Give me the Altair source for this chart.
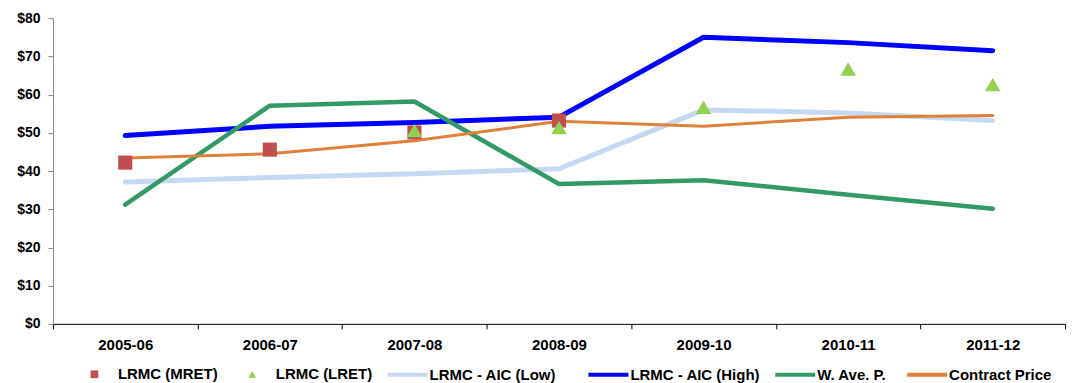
import altair as alt
import pandas as pd

years = ["2005-06", "2006-07", "2007-08", "2008-09", "2009-10", "2010-11", "2011-12"]
series_names = ["LRMC (MRET)", "LRMC (LRET)", "LRMC - AIC (Low)", "LRMC - AIC (High)", "W. Ave. P.", "Contract Price"]
colors = ["#C0504D", "#92D050", "#C6D9F1", "#0000FF", "#339966", "#E0813A"]

mret = [42.2, 45.6, 50.1, 53.2, None, None, None]
lret = [None, None, 50.6, 51.4, 56.7, 66.7, 62.6]
aic_low = [37.1, 38.3, 39.3, 40.6, 56.0, 55.2, 53.2]
aic_high = [49.3, 51.7, 52.7, 54.1, 75.0, 73.6, 71.5]
w_ave = [31.2, 57.1, 58.2, 36.6, 37.6, 33.8, 30.1]
contract = [43.4, 44.5, 47.9, 53.0, 51.7, 54.1, 54.5]

rows = []
for name, vals in zip(series_names, [mret, lret, aic_low, aic_high, w_ave, contract]):
    for y, v in zip(years, vals):
        if v is not None:
            rows.append({"year": y, "series": name, "value": v})
df = pd.DataFrame(rows)

FONT = "Liberation Sans"

x_enc = alt.X(
    "year:N",
    sort=years,
    scale=alt.Scale(paddingInner=0, paddingOuter=0),
    axis=alt.Axis(
        title=None, labelAngle=0, tickBand="extent", domainColor="#000000",
        tickColor="#000000", tickSize=5, labelPadding=9, labelFont=FONT,
        labelFontSize=15, labelFontWeight="bold", labelColor="#000000",
    ),
)
y_enc = alt.Y(
    "value:Q",
    scale=alt.Scale(domain=[0, 80], nice=False),
    axis=alt.Axis(
        title=None, values=[0, 10, 20, 30, 40, 50, 60, 70, 80], format="$.0f",
        grid=False, domainColor="#888888", tickColor="#888888", tickSize=5,
        labelPadding=8, labelFont=FONT, labelFontSize=14, labelFontWeight="bold",
        labelColor="#000000",
    ),
)

# legend positions (relative to plot origin), one legend per series
legend_x = {
    "LRMC (MRET)": 34,
    "LRMC (LRET)": 192,
    "LRMC - AIC (Low)": 333,
    "LRMC - AIC (High)": 534,
    "W. Ave. P.": 721,
    "Contract Price": 853,
}
POINT_LEGEND_Y = 349
LINE_LEGEND_Y = 335

base = alt.Chart(df)


def make_legend(name, kind):
    common = dict(
        title=None, orient="none", legendX=legend_x[name],
        labelFont=FONT, labelFontSize=15, labelFontWeight="bold", labelColor="#000000",
    )
    if kind == "line":
        return alt.Legend(symbolType="stroke", symbolSize=1600, symbolStrokeWidth=4,
                          labelOffset=0, legendY=LINE_LEGEND_Y, **common)
    shape = "square" if kind == "square" else "triangle-up"
    return alt.Legend(symbolType=shape, symbolSize=60, symbolStrokeWidth=0,
                      labelOffset=16, legendY=POINT_LEGEND_Y, **common)


def color_for(name, kind):
    i = series_names.index(name)
    return alt.Color(
        "series:N",
        scale=alt.Scale(domain=[name], range=[colors[i]]),
        legend=make_legend(name, kind),
    )


def line_layer(name, width):
    return base.transform_filter(alt.datum.series == name).mark_line(
        strokeWidth=width, strokeCap="round", strokeJoin="round"
    ).encode(x=x_enc, y=y_enc, color=color_for(name, "line"))


low = line_layer("LRMC - AIC (Low)", 5)
high = line_layer("LRMC - AIC (High)", 5)
green = line_layer("W. Ave. P.", 4.5)
orange = line_layer("Contract Price", 3)

squares = base.transform_filter(alt.datum.series == "LRMC (MRET)").mark_point(
    shape="square", filled=True, size=200, opacity=1
).encode(x=x_enc, y=y_enc, color=color_for("LRMC (MRET)", "square"))
triangles = base.transform_filter(alt.datum.series == "LRMC (LRET)").mark_point(
    shape="triangle-up", filled=True, size=240, opacity=1
).encode(x=x_enc, y=y_enc, color=color_for("LRMC (LRET)", "triangle"))

chart = alt.layer(low, high, green, orange, squares, triangles).resolve_scale(
    color="independent"
).resolve_legend(color="independent").properties(
    width=1013, height=306,
    padding={"left": 8, "top": 3, "right": 0, "bottom": 0},
    background="#FFFFFF",
).configure_view(stroke=None)

chart.save("out.html", embed_options={"renderer": "svg", "actions": False})
